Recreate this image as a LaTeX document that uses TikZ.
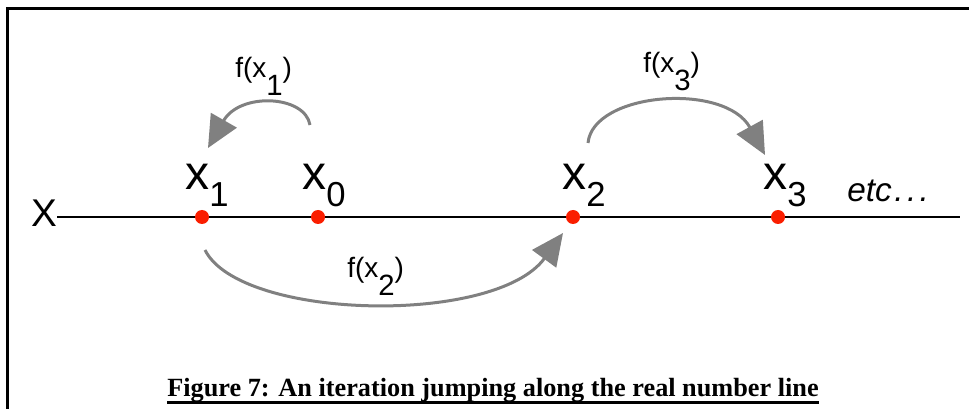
\documentclass[tikz,border=0pt]{standalone}
\usepackage{fontspec}
\setmainfont{Liberation Serif}
\newfontfamily\arialfont{Liberation Sans}
\usepackage{xcolor}
\usetikzlibrary{arrows.meta}

\definecolor{jumpgray}{RGB}{128,128,128}
\definecolor{dotred}{RGB}{250,30,0}

% point label x_n and jump label f(x_n)
\newcommand{\ptname}[1]{x\raisebox{-12.75pt}{\fontsize{26}{26}\selectfont #1}}
\newcommand{\jumpname}[1]{f(x\raisebox{-13.5pt}{\fontsize{22}{22}\selectfont #1})}

\begin{document}
\begin{tikzpicture}[
  x=0.75pt, y=-0.75pt,
  every node/.style={inner sep=0pt},
  dot/.style={circle, fill=dotred, minimum size=10.5pt},
  ptlbl/.style={anchor=base west, font=\arialfont\fontsize{36}{36}\selectfont},
  jmplbl/.style={anchor=base west, font=\arialfont\fontsize{21}{21}\selectfont},
  jump/.style={draw=jumpgray, line width=2.25pt, -{Triangle[length=24pt, width=22pt]}},
  caption/.style={anchor=base, font=\bfseries\fontsize{19.7}{22}\selectfont},
]
\useasboundingbox (0,0) rectangle (969,409);
% frame
\draw[line width=2.25pt] (7,409) -- (7,9) -- (969,9);
% number line
\node[font=\arialfont\fontsize{29}{29}\selectfont] (axis) at (44,213) {X};
\coordinate (lineend) at (960,217);
\draw[line width=1.2pt] (axis.east |- lineend) -- (lineend);
\node[dot] (p1) at (202,217) {};
\node[dot] (p0) at (318,217) {};
\node[dot] (p2) at (573,217) {};
\node[dot] (p3) at (778,217) {};
\node[ptlbl] (l1) at (185,190) {\ptname{1}};
\node[ptlbl] (l0) at (302,190) {\ptname{0}};
\node[ptlbl] (l2) at (562,190) {\ptname{2}};
\node[ptlbl] (l3) at (763,190) {\ptname{3}};
\node[anchor=base west, font=\arialfont\itshape\fontsize{25}{25}\selectfont] (etc) at (847,202) {etc\kern2pt.\kern2.5pt.\kern2.5pt.};
% jumps
\coordinate (j1s) at (310,125);
\coordinate (j1e) at (208,148);
\coordinate (j2s) at (205,250);
\coordinate (j2e) at (563,233);
\coordinate (j3s) at (588,143);
\coordinate (j3e) at (765,155);
\draw[jump] (j1s) .. controls (305,95) and (240,92) .. (j1e);
\draw[jump] (j2s) .. controls (240,320) and (495,326) .. (j2e);
\draw[jump] (j3s) .. controls (593,92) and (725,82) .. (j3e);
\node[jmplbl] (f1) at (235,78) {\jumpname{1}};
\node[jmplbl] (f2) at (347,277) {\jumpname{2}};
\node[jmplbl] (f3) at (643,73) {\jumpname{3}};
% caption
\node[caption] (cap) at (493,396) {Figure 7: An iteration jumping along the real number line};
\draw[line width=2.25pt] ([yshift=-4.5pt]cap.base west) -- ([yshift=-4.5pt]cap.base east);
\end{tikzpicture}
\end{document}
